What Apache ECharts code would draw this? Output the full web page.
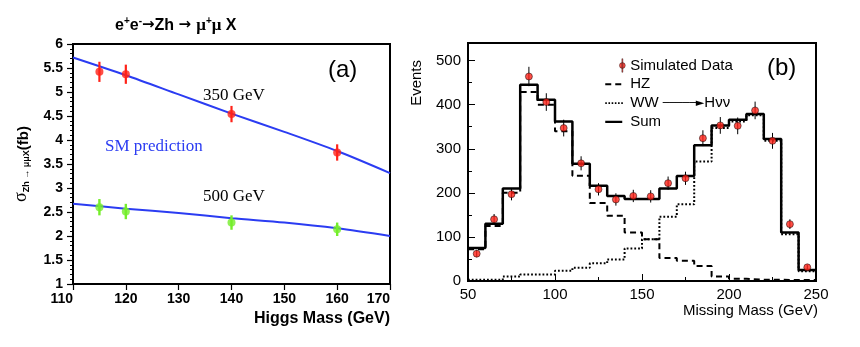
<!DOCTYPE html>
<html><head><meta charset="utf-8">
<script src="https://cdn.jsdelivr.net/npm/echarts@6/dist/echarts.min.js"></script>
<style>html,body{margin:0;padding:0;background:#fff}#c{width:860px;height:347px}</style>
</head><body><div id="c"></div>
<script>
// ---- Panel (a): cross-section vs Higgs mass ----
const massPoints = [115, 120, 140, 160];
const sigma350 = [5.42, 5.37, 4.54, 3.74];
const err350 = [0.21, 0.20, 0.17, 0.17];
const sigma500 = [2.60, 2.51, 2.28, 2.14];
const err500 = [0.17, 0.16, 0.15, 0.14];
const curveMass = [110, 120, 130, 140, 150, 160, 170];
const sm350 = [5.72, 5.35, 4.95, 4.55, 4.17, 3.77, 3.31];
const sm500 = [2.67, 2.57, 2.48, 2.37, 2.28, 2.16, 2.00];

// ---- Panel (b): missing-mass histogram ----
const binLow = [50, 60, 70, 80, 90, 100, 110, 120, 130, 140, 150, 160, 170, 180, 190, 200, 210, 220, 230, 240];
const binWidth = 10;
const hzEvents = [72, 125, 200, 429, 400, 340, 239, 177, 148, 110, 95, 52, 46, 34, 10, 5, 3, 3, 2, 2];
const wwEvents = [3, 3, 10, 15, 15, 23, 30, 40, 49, 74, 95, 146, 174, 271, 347, 362, 376, 318, 106, 22];
const sumEvents = [75, 130, 210, 445, 411, 362, 266, 216, 193, 186, 186, 210, 238, 308, 353, 366, 379, 322, 110, 25];
const dataEvents = [62, 140, 197, 464, 406, 347, 267, 208, 185, 193, 192, 222, 233, 324, 353, 352, 387, 318, 129, 31];
const dataErr = [8, 12, 14, 22, 20, 19, 16, 14, 14, 14, 14, 15, 15, 18, 19, 19, 20, 18, 11, 6];

const SANS = 'Liberation Sans';
const SERIF = 'Liberation Serif';
const BLUE = '#2b3cf2';
const RED = '#ff2218';
const GREEN = '#74ee2a';

const pairs = (xs, ys) => xs.map((x, i) => [x, ys[i]]);
const stepData = (vals) => binLow.map((x, i) => [x, vals[i]]).concat([[binLow[binLow.length - 1] + binWidth, vals[vals.length - 1]]]);
const errData = (xs, ys, es) => xs.map((x, i) => [x, ys[i] - es[i], ys[i] + es[i]]);
const binCenters = binLow.map(x => x + binWidth / 2);

function errRender(color, width) {
  return function (params, api) {
    const x = api.value(0), lo = api.value(1), hi = api.value(2);
    const p1 = api.coord([x, lo]), p2 = api.coord([x, hi]);
    return { type: 'line', shape: { x1: p1[0], y1: p1[1], x2: p2[0], y2: p2[1] },
      style: { stroke: color, lineWidth: width } };
  };
}

// legend icons (ROOT-style line samples), bounding box 20x14
const BOX = 'M0,0 L0,0.01 M20,14 L20,13.99 ';
const ICON_DATA = 'path://' + BOX + 'M17.3,0 L18.3,0 L18.3,14 L17.3,14 Z M20.8,7 A3,3 0 1 1 14.8,7 A3,3 0 1 1 20.8,7 Z';
const ICON_DASH = 'path://' + BOX + 'M0,6 L6,6 L6,8 L0,8 Z M10,6 L16,6 L16,8 L10,8 Z';
const ICON_DOT = 'path://' + BOX + 'M0,6.2 h1.6 v1.6 h-1.6 Z M3.2,6.2 h1.6 v1.6 h-1.6 Z M6.4,6.2 h1.6 v1.6 h-1.6 Z M9.6,6.2 h1.6 v1.6 h-1.6 Z M12.8,6.2 h1.6 v1.6 h-1.6 Z M16,6.2 h1.6 v1.6 h-1.6 Z';
const ICON_SOLID = 'path://' + BOX + 'M0,5.8 L17,5.8 L17,8.2 L0,8.2 Z';

const chart = echarts.init(document.getElementById('c'), null, { renderer: 'canvas' });
chart.setOption({
  animation: false,
  backgroundColor: '#fff',
  textStyle: { fontFamily: SANS },
  title: {
    text: '{b|e}{sup|+}{b|e}{sup|-}{ar|→}{b|Zh }{ar|→ }{m|μ}{sup|+}{m|μ }{b|X}',
    left: 110, top: 11,
    textStyle: {
      rich: {
        b: { fontFamily: SANS, fontWeight: 'bold', fontSize: 16, color: '#000' },
        sup: { fontFamily: SANS, fontWeight: 'bold', fontSize: 10, color: '#000', padding: [0, 0, 9, 0] },
        ar: { fontFamily: 'DejaVu Sans', fontSize: 15, color: '#000' },
        m: { fontFamily: SERIF, fontSize: 17, color: '#000' }
      }
    }
  },
  grid: [
    { left: 73, top: 44, width: 317, height: 240, show: true, borderColor: '#000', borderWidth: 2, backgroundColor: 'transparent' },
    { left: 468, top: 43, width: 348, height: 238, show: true, borderColor: '#000', borderWidth: 2, backgroundColor: 'transparent' }
  ],
  xAxis: [
    { type: 'value', gridIndex: 0, min: 110, max: 170, interval: 10,
      axisLine: { lineStyle: { color: '#000', width: 2 } },
      axisTick: { inside: false, length: 6, lineStyle: { color: '#000', width: 1.2 } },
      axisLabel: { color: '#000', fontWeight: 'bold', fontSize: 14, margin: 8, alignMinLabel: 'right', alignMaxLabel: 'right' },
      splitLine: { show: false },
      name: 'Higgs Mass (GeV)', nameLocation: 'end', nameGap: 0,
      nameTextStyle: { color: '#000', fontWeight: 'bold', fontSize: 16, align: 'right', verticalAlign: 'top', padding: [27, 0, 0, 0] }
    },
    { type: 'value', gridIndex: 1, min: 50, max: 250, interval: 50,
      axisLine: { lineStyle: { color: '#000', width: 2 } },
      axisTick: { inside: true, length: 7, lineStyle: { color: '#000', width: 1 } },
      minorTick: { show: true, splitNumber: 2, length: 4, lineStyle: { color: '#000', width: 1 } },
      axisLabel: { color: '#000', fontSize: 15, margin: 6 },
      splitLine: { show: false },
      name: 'Missing Mass (GeV)', nameLocation: 'end', nameGap: 2,
      nameTextStyle: { color: '#000', fontSize: 15, align: 'right', verticalAlign: 'top', padding: [22, 0, 0, 0] }
    }
  ],
  yAxis: [
    { type: 'value', gridIndex: 0, min: 1, max: 6, interval: 0.5,
      axisLine: { lineStyle: { color: '#000', width: 2 } },
      axisTick: { inside: false, length: 6, lineStyle: { color: '#000', width: 1.2 } },
      minorTick: { show: true, splitNumber: 5, length: 3, lineStyle: { color: '#000', width: 1 } },
      axisLabel: { color: '#000', fontWeight: 'bold', fontSize: 14, margin: 10 },
      splitLine: { show: false },
      name: '{sig|σ}{sub|Zh → μμX}{fb|(fb)}', nameLocation: 'middle', nameRotate: 90, nameGap: 38,
      nameTextStyle: {
        rich: {
          sig: { fontFamily: SERIF, fontSize: 18, color: '#000', padding: [0, 0, 5, 0] },
          sub: { fontFamily: SANS, fontWeight: 'bold', fontSize: 9, color: '#000', padding: [6, 0, 0, 0] },
          fb: { fontFamily: SANS, fontWeight: 'bold', fontSize: 15, color: '#000' }
        }
      }
    },
    { type: 'value', gridIndex: 1, min: 0, max: 540, interval: 100,
      axisLine: { lineStyle: { color: '#000', width: 2 } },
      axisTick: { inside: true, length: 7, lineStyle: { color: '#000', width: 1 } },
      minorTick: { show: true, splitNumber: 2, length: 4, lineStyle: { color: '#000', width: 1 } },
      axisLabel: { color: '#000', fontSize: 15, margin: 7, showMaxLabel: false },
      splitLine: { show: false },
      name: 'Events', nameLocation: 'end', nameRotate: 90, nameGap: -17,
      nameTextStyle: { color: '#000', fontSize: 15, align: 'right', verticalAlign: 'bottom', padding: [0, 0, 44, 0] }
    }
  ],
  legend: {
    orient: 'vertical', left: 600, top: 53,
    itemWidth: 20, itemHeight: 14, itemGap: 3.8,
    textStyle: { fontFamily: SANS, fontSize: 15, color: '#000', lineHeight: 14,
      rich: { a: { fontFamily: 'DejaVu Sans', fontSize: 11, color: '#000' } } },
    formatter: (name) => name === 'WW → Hνν' ? 'WW {a|─────►}Hνν' : name,
    data: [
      { name: 'Simulated Data', icon: ICON_DATA, itemStyle: { color: RED, borderColor: '#000', borderWidth: 0.5 } },
      { name: 'HZ', icon: ICON_DASH, itemStyle: { color: '#000', borderWidth: 0 } },
      { name: 'WW → Hνν', icon: ICON_DOT, itemStyle: { color: '#000', borderWidth: 0 } },
      { name: 'Sum', icon: ICON_SOLID, itemStyle: { color: '#000', borderWidth: 0 } }
    ]
  },
  graphic: [
    { type: 'text', left: 328, top: 58, style: { text: '(a)', font: '24px "Liberation Sans"', fill: '#000' } },
    { type: 'text', left: 203, top: 87, style: { text: '350 GeV', font: '17px "Liberation Serif"', fill: '#000' } },
    { type: 'text', left: 105, top: 138, style: { text: 'SM prediction', font: '17px "Liberation Serif"', fill: BLUE } },
    { type: 'text', left: 203, top: 188, style: { text: '500 GeV', font: '17px "Liberation Serif"', fill: '#000' } },
    { type: 'text', left: 767, top: 56, style: { text: '(b)', font: '24px "Liberation Sans"', fill: '#000' } }
  ],
  series: [
    { name: 'SM 350', type: 'line', xAxisIndex: 0, yAxisIndex: 0, data: pairs(curveMass, sm350), smooth: 0.3,
      symbol: 'none', lineStyle: { color: BLUE, width: 2 }, z: 2 },
    { name: 'SM 500', type: 'line', xAxisIndex: 0, yAxisIndex: 0, data: pairs(curveMass, sm500), smooth: 0.3,
      symbol: 'none', lineStyle: { color: BLUE, width: 2 }, z: 2 },
    { name: 'err350', type: 'custom', xAxisIndex: 0, yAxisIndex: 0, data: errData(massPoints, sigma350, err350),
      encode: { x: 0, y: [1, 2] }, renderItem: errRender(RED, 2.2), z: 3 },
    { name: 'err500', type: 'custom', xAxisIndex: 0, yAxisIndex: 0, data: errData(massPoints, sigma500, err500),
      encode: { x: 0, y: [1, 2] }, renderItem: errRender(GREEN, 2.4), z: 3 },
    { name: 'pts350', type: 'scatter', xAxisIndex: 0, yAxisIndex: 0, data: pairs(massPoints, sigma350),
      symbol: 'circle', symbolSize: 8, itemStyle: { color: RED }, z: 4 },
    { name: 'pts500', type: 'scatter', xAxisIndex: 0, yAxisIndex: 0, data: pairs(massPoints, sigma500),
      symbol: 'circle', symbolSize: 8, itemStyle: { color: GREEN }, z: 4 },

    { name: 'HZ', type: 'line', xAxisIndex: 1, yAxisIndex: 1, step: 'end', data: stepData(hzEvents),
      symbol: 'none', itemStyle: { color: '#000' }, lineStyle: { color: '#000', width: 2, type: [6, 4] }, z: 2 },
    { name: 'WW → Hνν', type: 'line', xAxisIndex: 1, yAxisIndex: 1, step: 'end', data: stepData(wwEvents),
      symbol: 'none', itemStyle: { color: '#000' }, lineStyle: { color: '#000', width: 2, type: [1.8, 2] }, z: 2 },
    { name: 'Sum', type: 'line', xAxisIndex: 1, yAxisIndex: 1, step: 'end', data: stepData(sumEvents),
      symbol: 'none', itemStyle: { color: '#000' }, lineStyle: { color: '#000', width: 2.5 }, z: 3 },
    { name: 'dataErr', type: 'custom', xAxisIndex: 1, yAxisIndex: 1, data: errData(binCenters, dataEvents, dataErr),
      encode: { x: 0, y: [1, 2] }, renderItem: errRender('#000', 1), z: 4 },
    { name: 'Simulated Data', type: 'scatter', xAxisIndex: 1, yAxisIndex: 1, data: pairs(binCenters, dataEvents),
      symbol: 'circle', symbolSize: 7, itemStyle: { color: RED, borderColor: '#000', borderWidth: 0.6 }, z: 5 }
  ]
});
</script>
</body></html>
